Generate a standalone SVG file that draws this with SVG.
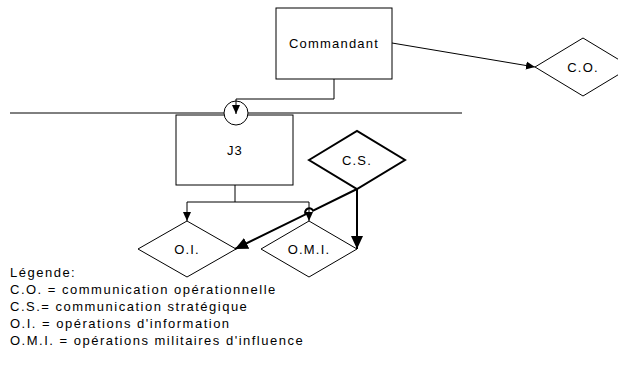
<svg xmlns="http://www.w3.org/2000/svg" width="618" height="376" viewBox="0 0 618 376">
<defs>
<style>
.box{fill:#fff;stroke:#000;stroke-width:1}
.dia{fill:#fff;stroke:#000;stroke-width:1}
.diab{fill:#fff;stroke:#000;stroke-width:2}
.ln{fill:none;stroke:#000;stroke-width:1}
.lnb{fill:none;stroke:#000;stroke-width:2}
.lbl{font-family:"Liberation Sans",Arial,sans-serif;font-size:13px;letter-spacing:1.2px;fill:#000;text-anchor:middle;dominant-baseline:central}
.leg{font-family:"Liberation Sans",Arial,sans-serif;font-size:13px;letter-spacing:1.5px;fill:#000}
</style>
<marker id="ah" markerWidth="10" markerHeight="10" refX="9" refY="5" orient="auto" markerUnits="userSpaceOnUse">
<path d="M0,1 L9,5 L0,9 Z" fill="#000"/>
</marker>
<marker id="ahb" markerWidth="14" markerHeight="14" refX="13" refY="7" orient="auto" markerUnits="userSpaceOnUse">
<path d="M0,1 L13,7 L0,13 Z" fill="#000"/>
</marker>
</defs>
<line x1="10" y1="113" x2="462" y2="113" class="ln"/>
<g id="commandant">
<rect class="box" x="276" y="8" width="116" height="71"/>
<text class="lbl" x="334" y="43" font-size="10" letter-spacing="0.5">Commandant</text>
</g>
<g id="co">
<polygon class="dia" points="535,67 583,38 631,67 583,96"/>
<text class="lbl" x="583" y="67">C.O.</text>
</g>
<g id="j3">
<rect class="box" x="176" y="115" width="117" height="70"/>
<text class="lbl" x="235" y="150">J3</text>
</g>
<g id="cs">
<polygon class="diab" points="309,160 357,131 405,160 357,189"/>
<text class="lbl" x="357" y="160">C.S.</text>
</g>
<g id="oi">
<polygon class="dia" points="138,249 187,221 236,249 187,277"/>
<text class="lbl" x="187" y="249">O.I.</text>
</g>
<g id="omi">
<polygon class="dia" points="261,249 309,221 357,249 309,277"/>
<text class="lbl" x="309" y="249">O.M.I.</text>
</g>
<g id="connectors">
<path class="ln" d="M392,43 L535,67" marker-end="url(#ah)"/>
<circle class="box" cx="236" cy="113" r="12"/>
<path class="ln" d="M334,79 L334,99 L236,99 L236,114" marker-end="url(#ah)"/>
<path class="ln" d="M235,185 L235,202"/>
<path class="ln" d="M187,202 L309,202"/>
<path class="ln" d="M187,202 L187,221" marker-end="url(#ah)"/>
<path class="ln" d="M309,202 L309,221" marker-end="url(#ah)"/>
<path class="lnb" d="M357,189 L357,249" marker-end="url(#ahb)"/>
<path class="lnb" d="M357,189 L313,210.6 A4,4 0 0 0 305.6,214.3 L235,249" marker-end="url(#ahb)"/>
</g>
<g id="legend">
<text class="leg" x="10" y="277">Légende:</text>
<text class="leg" x="10" y="294">C.O. = communication opérationnelle</text>
<text class="leg" x="10" y="311">C.S.= communication stratégique</text>
<text class="leg" x="10" y="328">O.I. = opérations d'information</text>
<text class="leg" x="10" y="345">O.M.I. = opérations militaires d'influence</text>
</g>
</svg>
